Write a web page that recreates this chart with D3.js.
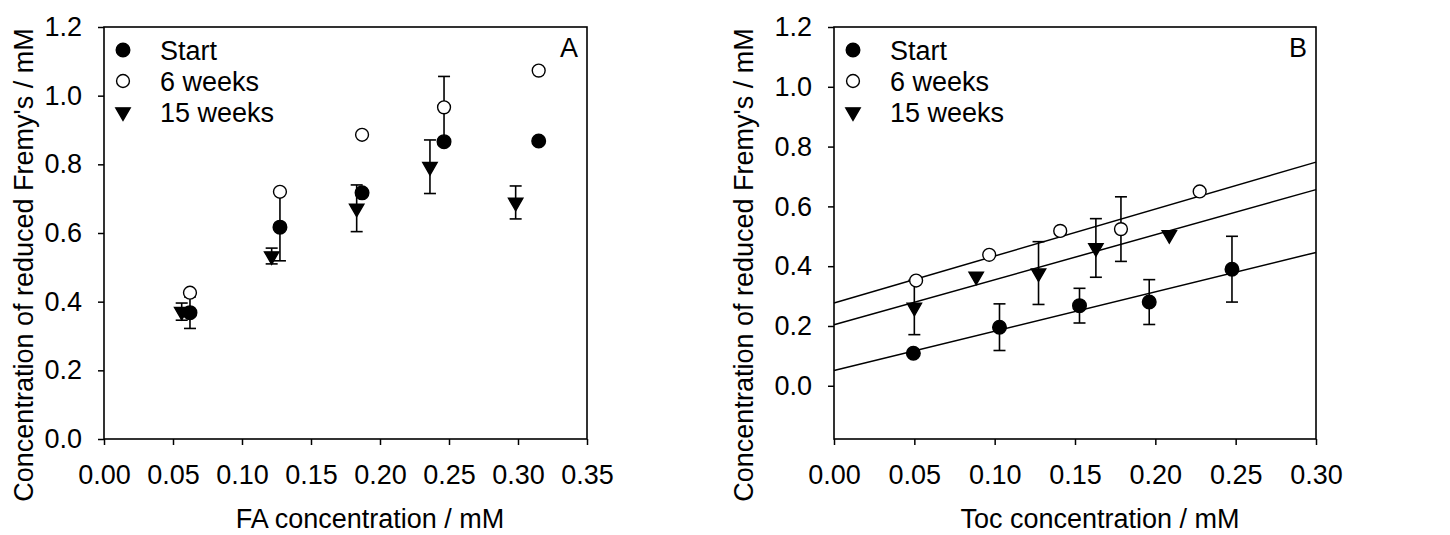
<!DOCTYPE html>
<html>
<head>
<meta charset="utf-8">
<script src="https://cdn.jsdelivr.net/npm/d3@7"></script>
<style>
  body { margin: 0; background: #fff; }
  text { font-family: "Liberation Sans", Arial, sans-serif; }
</style>
</head>
<body>
<div id="chart"></div>
<script>
// ---- data ----
const seriesNames = ["Start", "6 weeks", "15 weeks"];

// panel A: FA
const faStartX = [0.0623, 0.1275, 0.187, 0.2464, 0.315];
const faStartY = [0.368, 0.617, 0.717, 0.866, 0.868];
const faStartErr = [0.046, 0.098, 0, 0, 0];
const fa6wX = [0.0623, 0.1275, 0.187, 0.2464, 0.315];
const fa6wY = [0.426, 0.72, 0.886, 0.966, 1.073];
const fa6wErr = [0, 0, 0, 0.09, 0];
const fa15wX = [0.0563, 0.1215, 0.1831, 0.2362, 0.2983];
const fa15wY = [0.371, 0.533, 0.672, 0.793, 0.689];
const fa15wErr = [0.025, 0.023, 0.068, 0.078, 0.048];

// panel B: Toc
const tocStartX = [0.0494, 0.103, 0.1528, 0.1962, 0.2477];
const tocStartY = [0.109, 0.196, 0.268, 0.28, 0.39];
const tocStartErr = [0, 0.078, 0.058, 0.075, 0.11];
const toc6wX = [0.0511, 0.0966, 0.1408, 0.1786, 0.2276];
const toc6wY = [0.352, 0.438, 0.518, 0.524, 0.65];
const toc6wErr = [0, 0, 0, 0.108, 0];
const toc15wX = [0.05, 0.0885, 0.1273, 0.163, 0.2087];
const toc15wY = [0.262, 0.366, 0.377, 0.461, 0.505];
const toc15wErr = [0.091, 0, 0.105, 0.098, 0];
// fitted lines [intercept, slope]
const tocFits = [[0.051, 1.317], [0.277, 1.57], [0.204, 1.507]];

const yTicks = [0, 0.2, 0.4, 0.6, 0.8, 1.0, 1.2];
const faXTicks = [0, 0.05, 0.1, 0.15, 0.2, 0.25, 0.3, 0.35];
const tocXTicks = [0, 0.05, 0.1, 0.15, 0.2, 0.25, 0.3];

const W = 1450, H = 535;
const svg = d3.select("#chart").append("svg")
  .attr("width", W).attr("height", H);

const FS = 27;

function zip(xs, ys, es) {
  return xs.map((x, i) => ({x: x, y: ys[i], e: es[i]}));
}

function drawPanel(opt) {
  const x = d3.scaleLinear().domain(opt.xDomain).range([opt.left, opt.right]);
  const y = d3.scaleLinear().domain(opt.yDomain).range([opt.bottom, opt.top]);
  const g = svg.append("g");

  // x axis
  g.append("g")
    .attr("transform", `translate(0,${opt.bottom})`)
    .call(d3.axisBottom(x).tickValues(opt.xTicks).tickFormat(d3.format(".2f"))
      .tickSizeInner(6).tickSizeOuter(0).tickPadding(20))
    .call(a => a.select(".domain").remove());
  // y axis
  g.append("g")
    .attr("transform", `translate(${opt.left},0)`)
    .call(d3.axisLeft(y).tickValues(yTicks).tickFormat(d3.format(".1f"))
      .tickSizeInner(6).tickSizeOuter(0).tickPadding(16))
    .call(a => a.select(".domain").remove());
  g.selectAll(".tick line").attr("stroke", "#000").attr("stroke-width", 1.5);
  g.selectAll(".tick text").attr("font-size", FS).attr("fill", "#000")
    .style("font-family", "'Liberation Sans', Arial, sans-serif");

  // frame
  g.append("rect")
    .attr("x", opt.left).attr("y", opt.top)
    .attr("width", opt.right - opt.left).attr("height", opt.bottom - opt.top)
    .attr("fill", "none").attr("stroke", "#000").attr("stroke-width", 1.6);

  // fit lines
  if (opt.fits) {
    g.selectAll(".fit").data(opt.fits).enter().append("line")
      .attr("x1", x(opt.xDomain[0])).attr("x2", x(opt.xDomain[1]))
      .attr("y1", d => y(d[0] + d[1] * opt.xDomain[0]))
      .attr("y2", d => y(d[0] + d[1] * opt.xDomain[1]))
      .attr("stroke", "#000").attr("stroke-width", 1.5);
  }

  // error bars
  const all = opt.series.flat().filter(d => d.e > 0);
  const eb = g.append("g").attr("stroke", "#000").attr("stroke-width", 1.6);
  all.forEach(d => {
    eb.append("line").attr("x1", x(d.x)).attr("x2", x(d.x))
      .attr("y1", y(d.y - d.e)).attr("y2", y(d.y + d.e));
    [d.y - d.e, d.y + d.e].forEach(v => {
      eb.append("line").attr("x1", x(d.x) - 6).attr("x2", x(d.x) + 6)
        .attr("y1", y(v)).attr("y2", y(v));
    });
  });

  // markers
  const sym = [
    {path: d3.symbol(d3.symbolCircle, 145)(), fill: "#000", rot: 0},
    {path: d3.symbol(d3.symbolCircle, 130)(), fill: "#fff", rot: 0},
    {path: d3.symbol(d3.symbolTriangle, 90)(), fill: "#000", rot: 180}
  ];
  opt.series.forEach((s, i) => {
    g.append("g").selectAll("path").data(s).enter().append("path")
      .attr("d", sym[i].path)
      .attr("transform", d => `translate(${x(d.x)},${y(d.y)}) rotate(${sym[i].rot})`)
      .attr("fill", sym[i].fill).attr("stroke", "#000").attr("stroke-width", 1.4);
  });

  // legend
  const lg = g.append("g");
  seriesNames.forEach((n, i) => {
    const ly = 50 + i * 31;
    lg.append("path").attr("d", sym[i].path)
      .attr("transform", `translate(${opt.left + 19},${ly}) rotate(${sym[i].rot})`)
      .attr("fill", sym[i].fill).attr("stroke", "#000").attr("stroke-width", 1.4);
    lg.append("text").attr("x", opt.left + 56).attr("y", ly)
      .attr("dy", "0.36em").attr("font-size", FS).text(n);
  });

  // panel letter
  g.append("text").attr("x", opt.right - 9).attr("y", 47).attr("dy", "0.36em")
    .attr("text-anchor", "end").attr("font-size", FS).text(opt.letter);

  // axis titles
  g.append("text").attr("x", opt.xTitleX).attr("y", opt.bottom + 89)
    .attr("text-anchor", "middle").attr("font-size", FS).text(opt.xTitle);
  g.append("text")
    .attr("transform", `translate(${opt.yTitleX},${opt.yTitleY}) rotate(-90)`)
    .attr("text-anchor", "middle").attr("font-size", FS)
    .text("Concentration of reduced Fremy's / mM");
}

drawPanel({
  left: 104, right: 587, top: 27, bottom: 439,
  xDomain: [0, 0.35], yDomain: [0, 1.2], xTicks: faXTicks,
  series: [zip(faStartX, faStartY, faStartErr), zip(fa6wX, fa6wY, fa6wErr), zip(fa15wX, fa15wY, fa15wErr)],
  letter: "A", xTitle: "FA concentration / mM", xTitleX: 370,
  yTitleX: 33, yTitleY: 265
});

drawPanel({
  left: 834, right: 1316, top: 27, bottom: 439,
  xDomain: [0, 0.30], yDomain: [-0.178, 1.2], xTicks: tocXTicks,
  series: [zip(tocStartX, tocStartY, tocStartErr), zip(toc6wX, toc6wY, toc6wErr), zip(toc15wX, toc15wY, toc15wErr)],
  fits: tocFits,
  letter: "B", xTitle: "Toc concentration / mM", xTitleX: 1100,
  yTitleX: 753, yTitleY: 265
});
</script>
</body>
</html>
